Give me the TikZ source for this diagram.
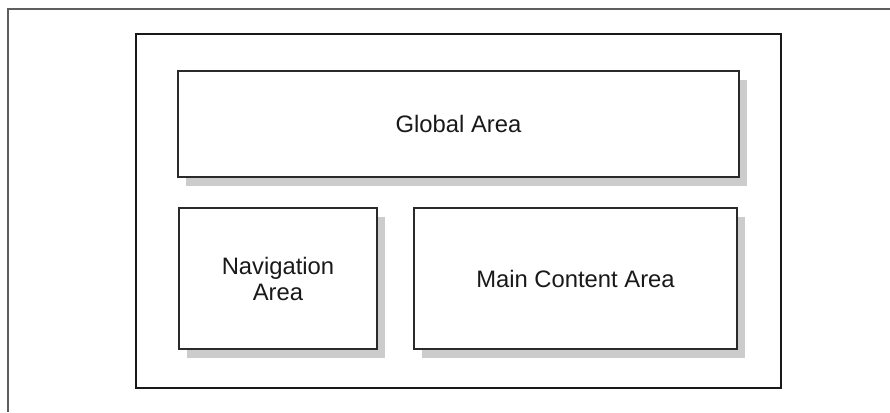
\documentclass[tikz,border=0pt]{standalone}
\usepackage{fontspec}
\setmainfont{Liberation Sans}
\usetikzlibrary{shadows}
\definecolor{boxline}{HTML}{2A2A2A}
\definecolor{shadowgray}{HTML}{CCCCCC}
\definecolor{outerline}{HTML}{5E5E5E}
\begin{document}
\begin{tikzpicture}[x=1pt,y=-1pt,
  areabox/.style={draw=boxline, line width=1.8pt, fill=white, rectangle, inner sep=0pt,
    align=center, font=\fontsize{23.8}{26}\selectfont, text=black!90,
    drop shadow={shadow xshift=8pt, shadow yshift=-9pt, fill=shadowgray, opacity=1}},
  framebox/.style={draw=black!90, line width=2pt, rectangle, inner sep=0pt},
  outer/.style={draw=outerline, line width=2pt}]
\useasboundingbox (0,0) rectangle (890,412);
\coordinate (tr) at (890,9.5);
\coordinate (tl) at (8,9.5);
\coordinate (bl) at (8,412);
\draw[outer] (tr) -- (tl) -- (bl);
\node[framebox, minimum width=645pt, minimum height=354pt] (frame) at (458.5,211) {};
\node[areabox, minimum width=561pt, minimum height=106pt] (global) at (458.5,124) {Global Area};
\node[areabox, minimum width=198pt, minimum height=141pt] (nav) at (278,278.5) {Navigation\\Area};
\node[areabox, minimum width=323pt, minimum height=141pt] (main) at (575.5,278.5) {Main Content Area};
\end{tikzpicture}
\end{document}
